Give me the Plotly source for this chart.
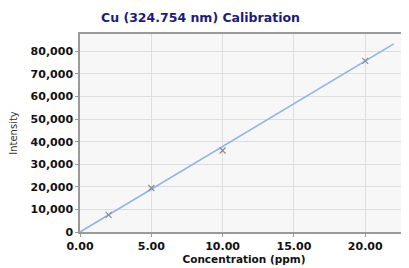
import plotly.graph_objects as go

conc = [2.0, 5.0, 10.0, 20.0]
intensity = [7600, 19500, 36100, 75800]
fit_x = [0.0, 22.0]
fit_y = [0, 83300]
x_ticks = [0, 5, 10, 15, 20]
y_ticks = [0, 10000, 20000, 30000, 40000, 50000, 60000, 70000, 80000]

fig = go.Figure()
fig.add_trace(go.Scatter(x=fit_x, y=fit_y, mode="lines",
                         line=dict(color="#8db3ee", width=1.6),
                         hoverinfo="skip", showlegend=False))
fig.add_trace(go.Scatter(x=conc, y=intensity, mode="markers",
                         marker=dict(symbol="x-thin", size=6,
                                     line=dict(color="#8a8a9a", width=1.2)),
                         showlegend=False))

fig.update_layout(
    width=401, height=260,
    margin=dict(l=72, r=1, t=26, b=36, autoexpand=False),
    paper_bgcolor="white", plot_bgcolor="#f7f7f7",
    title=dict(text="<b>Cu (324.754 nm) Calibration</b>",
               font=dict(family="DejaVu Sans", size=12.5, color="#1c1c7c"),
               x=0.48, xanchor="center", y=1 - 10 / 260, yanchor="middle"),
    font=dict(family="DejaVu Sans", color="#111111"),
)
fig.update_xaxes(range=[0, 23], tickvals=x_ticks, tickformat=".2f",
                 tickfont=dict(size=11, family="DejaVu Sans", weight="bold"),
                 title=dict(text="Concentration (ppm)",
                            font=dict(size=10.5, family="DejaVu Sans", weight="bold"),
                            standoff=2),
                 showgrid=True, gridcolor="#dedede", gridwidth=1,
                 showline=True, linecolor="#9a9a9a", linewidth=1.5, mirror=True,
                 ticks="outside", ticklen=3, tickcolor="#9a9a9a", zeroline=False,
                 automargin=False)
fig.update_yaxes(range=[0, 87700], tickvals=y_ticks, tickformat=",d",
                 tickfont=dict(size=11, family="DejaVu Sans", weight="bold"),
                 title=dict(text="Intensity",
                            font=dict(size=10, family="DejaVu Sans", color="#333333"),
                            standoff=14),
                 showgrid=True, gridcolor="#dedede", gridwidth=1,
                 showline=True, linecolor="#9a9a9a", linewidth=1.5, mirror=True,
                 ticks="outside", ticklen=3, tickcolor="#9a9a9a", zeroline=False,
                 automargin=False)

fig.write_html("out.html")
